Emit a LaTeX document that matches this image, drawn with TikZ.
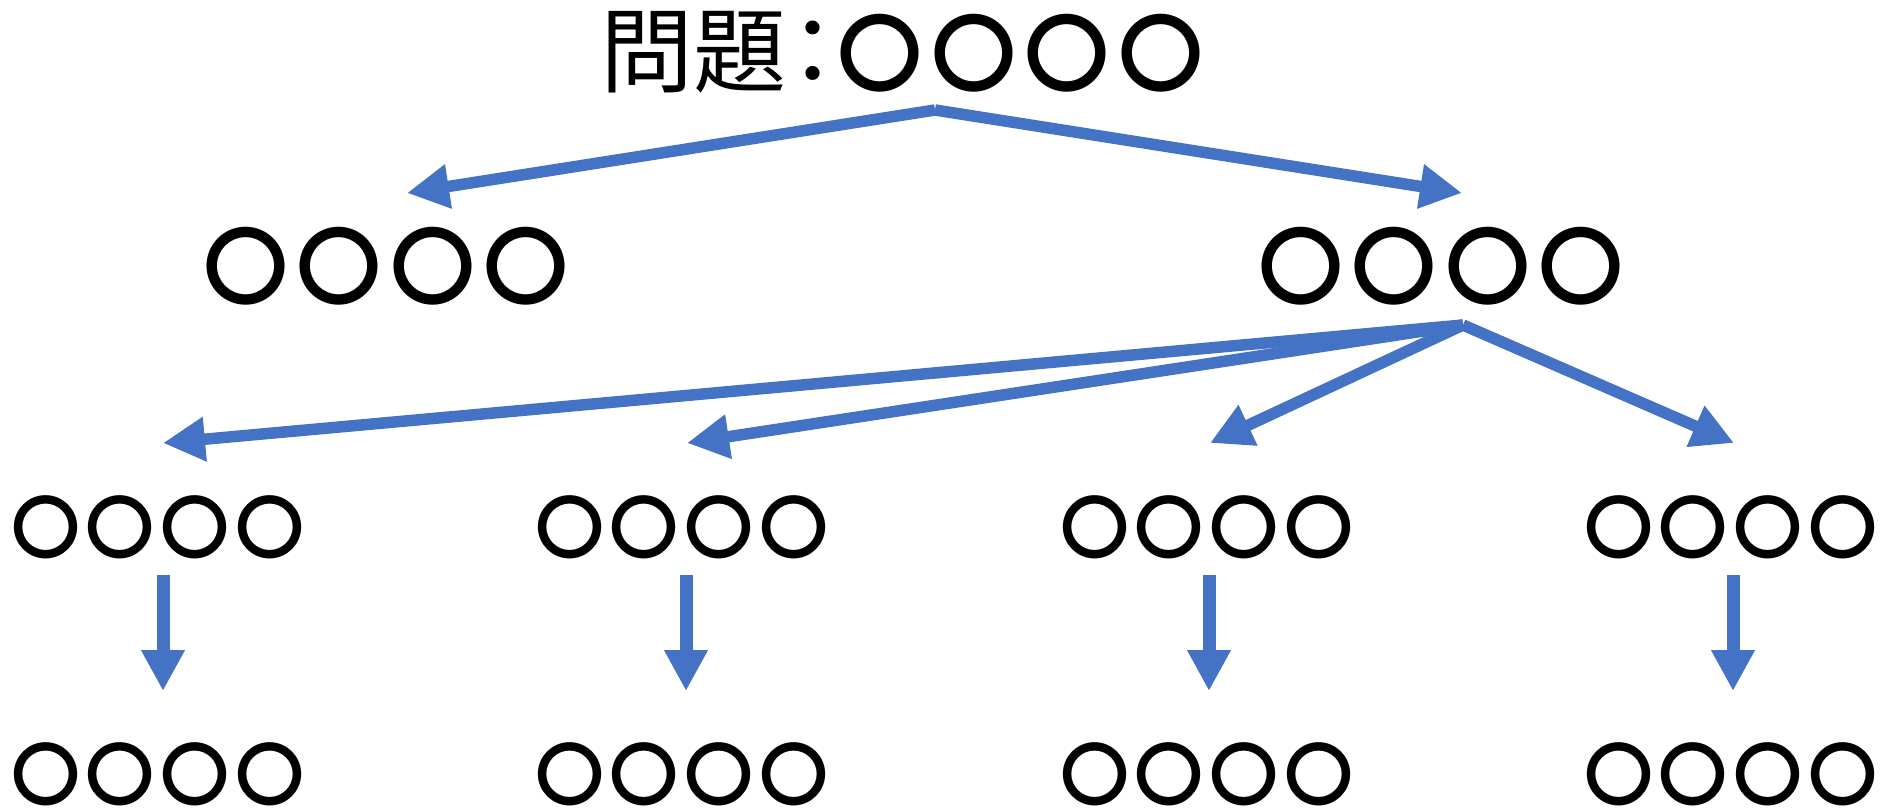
\documentclass[tikz,border=0pt]{standalone}
\usepackage{fontspec}
\usetikzlibrary{arrows.meta}
\newfontfamily\jp{Noto Sans CJK JP}
\newfontfamily\jpb{Noto Sans CJK JP Bold}
\definecolor{arrowblue}{HTML}{4472C4}
\tikzset{
  big/.style={inner sep=0pt, font=\jpb\fontsize{85}{85}\selectfont},
  small/.style={inner sep=0pt, font=\jpb\fontsize{69}{69}\selectfont},
  link/.style={draw=arrowblue, line width=11.5pt, -{Triangle[length=42pt,width=42pt]}},
  down/.style={draw=arrowblue, line width=13pt, -{Triangle[length=41pt,width=41pt]}}
}
\newcommand{\fourk}[1]{〇\kern#1〇\kern#1〇\kern#1〇}
\begin{document}
\begin{tikzpicture}[x=1pt,y=-1pt]
\useasboundingbox (0,0) rectangle (1890,808);
% title
\node[inner sep=0pt, anchor=center, font=\jp\fontsize{93}{93}\selectfont] (title) at (902,52)
  {問題{\kern-20pt}：{\kern-22pt}{\jpb\fontsize{85}{85}\selectfont\fourk{8.4pt}}};
% level 2
\node[big] (l2a) at (386,266) {\fourk{8.4pt}};
\node[big] (l2b) at (1441,266) {\fourk{8.4pt}};
% level 3
\node[small] (g1) at (158,527) {\fourk{6pt}};
\node[small] (g2) at (682,527) {\fourk{6pt}};
\node[small] (g3) at (1207,527) {\fourk{6pt}};
\node[small] (g4) at (1731,527) {\fourk{6pt}};
% level 4
\node[small] (h1) at (158,774) {\fourk{6pt}};
\node[small] (h2) at (682,774) {\fourk{6pt}};
\node[small] (h3) at (1207,774) {\fourk{6pt}};
\node[small] (h4) at (1731,774) {\fourk{6pt}};
% arrow points
\coordinate (apexA) at (935,110);
\coordinate (tipA1) at (407,193);
\coordinate (tipA2) at (1462,193);
\coordinate (apexB) at (1463,325);
\coordinate (tipB1) at (163,443);
\coordinate (tipB2) at (687,443);
\coordinate (tipB3) at (1210,443);
\coordinate (tipB4) at (1734,443);
\draw[link] (apexA) -- (tipA1);
\draw[link] (apexA) -- (tipA2);
\draw[link] (apexB) -- (tipB1);
\draw[link] (apexB) -- (tipB2);
\draw[link] (apexB) -- (tipB3);
\draw[link] (apexB) -- (tipB4);
% vertical arrows
\foreach \i/\x in {1/163,2/686,3/1209,4/1733}{
  \coordinate (vs\i) at (\x,575);
  \coordinate (ve\i) at (\x,691);
  \draw[down] (vs\i) -- (ve\i);
}
\end{tikzpicture}
\end{document}
